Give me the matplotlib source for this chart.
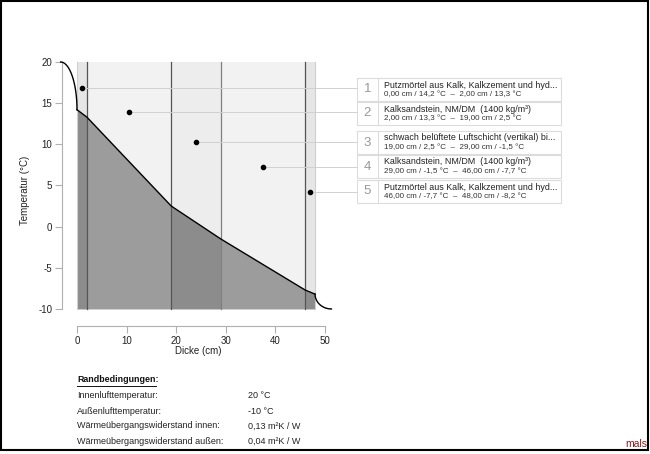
import numpy as np
import matplotlib

matplotlib.use('Agg')

import matplotlib.pyplot as plt
from matplotlib.patches import Rectangle
from matplotlib.lines import Line2D

plt.rcParams['font.family'] = ['Liberation Sans', 'DejaVu Sans']
plt.rcParams['axes.unicode_minus'] = False

'''Schichtdaten'''

bounds   = [0, 2, 19, 29, 46, 48]                  # cm
temps    = [14.2, 13.3, 2.5, -1.5, -7.7, -8.2]     # degC an den Grenzen
t_in     = 20
t_out    = -10
dot_x    = [1, 10.5, 24, 37.5, 47]
dot_y    = [16.9, 13.9, 10.25, 7.25, 4.2]
names    = ['Putzmörtel aus Kalk, Kalkzement und hyd...',
            'Kalksandstein, NM/DM  (1400 kg/m³)',
            'schwach belüftete Luftschicht (vertikal) bi...',
            'Kalksandstein, NM/DM  (1400 kg/m³)',
            'Putzmörtel aus Kalk, Kalkzement und hyd...']
ranges   = ['0,00 cm / 14,2 °C  –  2,00 cm / 13,3 °C',
            '2,00 cm / 13,3 °C  –  19,00 cm / 2,5 °C',
            '19,00 cm / 2,5 °C  –  29,00 cm / -1,5 °C',
            '29,00 cm / -1,5 °C  –  46,00 cm / -7,7 °C',
            '46,00 cm / -7,7 °C  –  48,00 cm / -8,2 °C']
rb_lab   = ['Innenlufttemperatur:', 'Außenlufttemperatur:',
            'Wärmeübergangswiderstand innen:', 'Wärmeübergangswiderstand außen:']
rb_val   = ['20 °C', '-10 °C', '0,13 m²K / W', '0,04 m²K / W']

W, H = 650, 454
fig = plt.figure(figsize=(W/100, H/100), dpi=100)

def fx(px): return px/W
def fy(py): return 1 - py/H

ax = fig.add_axes([fx(62), fy(326), fx(335)-fx(62), fy(55)-fy(326)])
ax.set_xlim(-3.024, 52.02)
ax.set_ylim(-12.07, 20.85)

top_col = ['#e6e6e6', '#f2f2f2', '#ededed', '#f2f2f2', '#e6e6e6']
bot_col = ['#8c8c8c', '#9c9c9c', '#8c8c8c', '#9c9c9c', '#8c8c8c']
for i in range(5):
    x0, x1 = bounds[i], bounds[i+1]
    ax.add_patch(Rectangle((x0, t_out), x1-x0, t_in-t_out, fc=top_col[i], ec='none', zorder=1))
    ax.fill_between([x0, x1], [temps[i], temps[i+1]], t_out, color=bot_col[i], lw=0, zorder=2)

ax.plot([bounds[0]]*2, [t_out, t_in], color='#cfcfcf', lw=0.8, zorder=3)
ax.plot([bounds[-1]]*2, [t_out, t_in], color='#cfcfcf', lw=0.8, zorder=3)
line_col = ['#555555', '#555555', '#808080', '#555555']
for b, c in zip(bounds[1:-1], line_col):
    ax.plot([b, b], [t_out, t_in], color=c, lw=0.9, zorder=3)

# Grenzschichten (nur Darstellung)
t = np.linspace(0, np.pi/2, 40)
ax.plot(-3.3 + 3.3*np.sin(t), temps[0] + (t_in-temps[0])*np.cos(t), color='black', lw=1, clip_on=False, zorder=5)
ax.plot(bounds[-1] + 3.3 - 3.3*np.cos(t), temps[-1] - (temps[-1]-t_out)*np.sin(t), color='black', lw=1, clip_on=False, zorder=5)
ax.plot(bounds, temps, color='black', lw=1, zorder=5)

# Legendenkaesten
x_box = (357-77)/4.96
box_top = [78, 102, 131, 155, 180]
for i in range(5):
    ax.plot([dot_x[i], x_box], [dot_y[i]]*2, color='#d0d0d0', lw=0.7, clip_on=False, zorder=4)
    ax.plot(dot_x[i], dot_y[i], 'o', color='black', ms=3, zorder=6)
    top = box_top[i]
    fig.add_artist(Rectangle((fx(357), fy(top+23)), fx(561)-fx(357), 23/H, fc='white', ec='#dcdcdc', lw=0.8))
    fig.add_artist(Line2D([fx(378)]*2, [fy(top), fy(top+23)], color='#dcdcdc', lw=0.8))
    fig.text(fx(367.5), fy(top+11.5), str(i+1), fontsize=9.5, color='#999999', ha='center', va='center')
    fig.text(fx(384), fy(top+7), names[i], fontsize=6.4, color='#222222', va='center')
    fig.text(fx(384), fy(top+17), ranges[i], fontsize=5.8, color='#333333', va='center')

# Achsen im R-Stil
for s in ['top', 'right']:
    ax.spines[s].set_visible(False)
ax.spines['left'].set_bounds(-10, 20)
ax.spines['bottom'].set_bounds(0, 50)
for s in ['left', 'bottom']:
    ax.spines[s].set_color('#b0b0b0')
    ax.spines[s].set_linewidth(0.8)
ax.set_yticks([-10, -5, 0, 5, 10, 15, 20])
ax.set_xticks([0, 10, 20, 30, 40, 50])
ax.tick_params(labelsize=7, colors='#b0b0b0', labelcolor='#222222', length=5, width=0.8, pad=2)
ax.set_xlabel('Dicke (cm)', fontsize=7, color='#222222', labelpad=0)
ax.set_ylabel('Temperatur (°C)', fontsize=7, color='#222222', labelpad=6)

# Randbedingungen
fig.text(fx(77), fy(380), 'Randbedingungen:', fontsize=6.4, fontweight='bold', va='center', color='#111111')
fig.add_artist(Line2D([fx(77), fx(156)], [fy(385.5)]*2, color='#111111', lw=0.7))
rows = [395.5, 411, 426, 441.5]
for lab, val, r in zip(rb_lab, rb_val, rows):
    fig.text(fx(77), fy(r), lab, fontsize=6.5, va='center', color='#222222')
    fig.text(fx(248), fy(r), val, fontsize=6.5, va='center', color='#222222')

fig.text(fx(647), fy(444), 'mals', fontsize=7.5, color='#8b1a1a', ha='right', va='center')
fig.add_artist(Rectangle((fx(1), fy(450)), fx(648)-fx(1), fy(1)-fy(450), fc='none', ec='black', lw=1.5))

fig.savefig('out.png', dpi=100)
